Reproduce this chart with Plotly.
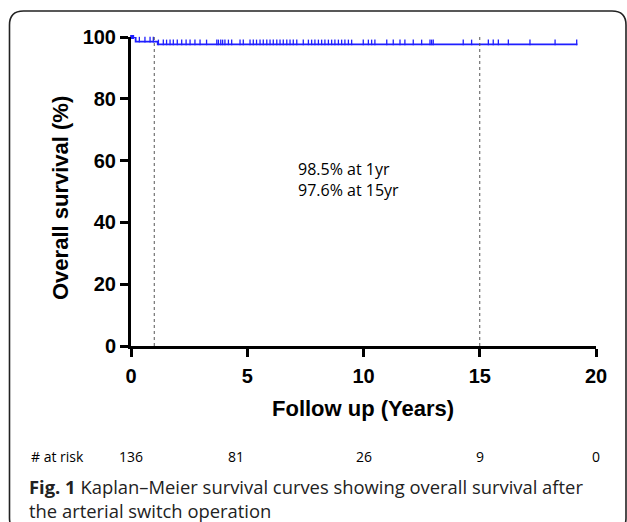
import numpy as np
import plotly.graph_objects as go

# ---- data ----
event_times = [0.0, 0.2, 1.15]
event_surv = [100.0, 98.5, 97.6]
end_time = 19.2
censor_times = [0.36, 0.6, 0.82, 0.96, 1.18, 1.39, 1.53, 1.68, 1.82, 1.99, 2.18, 2.37,
                2.54, 2.75, 2.97, 3.25, 3.69, 3.76, 3.86, 3.94, 4.04, 4.19, 4.33, 4.69,
                4.83, 5.12, 5.26, 5.4, 5.55, 5.69, 5.84, 5.98, 6.12, 6.27, 6.41, 6.55,
                6.7, 6.84, 6.98, 7.13, 7.41, 7.63, 7.77, 7.91, 8.06, 8.2, 8.34, 8.49,
                8.63, 8.77, 8.92, 9.06, 9.2, 9.35, 9.49, 9.99, 10.21, 10.35, 10.49,
                11.0, 11.28, 11.57, 11.78, 12.14, 12.5, 12.86, 12.93, 13.0, 14.29,
                14.65, 15.37, 15.58, 15.8, 16.23, 17.16, 18.24, 19.17]
ref_lines = [1, 15]
x_ticks = [0, 5, 10, 15, 20]
y_ticks = [0, 20, 40, 60, 80, 100]
risk_pos = [0, 4.5, 10, 15, 20]
risk_vals = ["136", "81", "26", "9", "0"]
note_lines = ["98.5% at 1yr", "97.6% at 15yr"]
caption_lines = ["<b>Fig. 1</b> Kaplan–Meier survival curves showing overall survival after",
                 "the arterial switch operation"]

W, H = 627, 522
L, R, T, B = 131, 31, 37, 176
pw, ph = W - L - R, H - T - B


def px(x):
    return (x - L) / pw


def py(y):
    return (H - B - y) / ph


blue = "#1f1fff"
fig = go.Figure()

# reference dotted lines
for r in ref_lines:
    fig.add_shape(type="line", x0=r, x1=r, y0=0, y1=100, xref="x", yref="y",
                  line=dict(color="#555555", width=1, dash="dot"))

# KM curve
kx = list(event_times) + [end_time]
ky = list(event_surv) + [event_surv[-1]]
fig.add_trace(go.Scatter(x=kx, y=ky, mode="lines", line=dict(color=blue, width=1.8, shape="hv"),
                         cliponaxis=False, showlegend=False))

# censor marks
idx = np.searchsorted(np.array(event_times), np.array(censor_times), side="right") - 1
cy = np.array(event_surv)[idx] + 0.65
fig.add_trace(go.Scatter(x=censor_times, y=cy, mode="markers",
                         marker=dict(symbol="line-ns", size=4, line=dict(color=blue, width=1.3)),
                         cliponaxis=False, showlegend=False))
# start dot
fig.add_trace(go.Scatter(x=[0.05], y=[100], mode="markers",
                         marker=dict(symbol="square", size=4, color=blue),
                         cliponaxis=False, showlegend=False))

axfont = dict(family="Liberation Sans, Arial", size=20, color="black", weight="bold")
fig.update_xaxes(range=[0, 20], tickvals=x_ticks, ticks="outside", ticklen=8, tickwidth=3,
                 tickcolor="black", showline=True, linewidth=3, linecolor="black",
                 showgrid=False, zeroline=False, tickfont=axfont, ticklabelstandoff=2)
fig.update_yaxes(range=[0, 100], tickvals=y_ticks, ticks="outside", ticklen=8, tickwidth=3,
                 tickcolor="black", showline=True, linewidth=3, linecolor="black",
                 showgrid=False, zeroline=False, tickfont=axfont)

titlefont = dict(family="Liberation Sans, Arial", size=22, color="black", weight="bold")
ann = []
ann.append(dict(text="Follow up (Years)", x=px(363), y=py(408), xref="paper", yref="paper",
                showarrow=False, font=titlefont, xanchor="center", yanchor="middle"))
ann.append(dict(text="Overall survival (%)", x=px(60), y=py(198), xref="paper", yref="paper",
                showarrow=False, textangle=-90, font=titlefont,
                xanchor="center", yanchor="middle"))
ann.append(dict(text="<br>".join(note_lines), x=px(296), y=py(179), xref="paper", yref="paper",
                showarrow=False, align="left", xanchor="left", yanchor="middle",
                font=dict(family="Open Sans", size=16, color="black")))
ann.append(dict(text="# at risk", x=px(29), y=py(456), xref="paper", yref="paper", showarrow=False,
                xanchor="left", yanchor="middle", font=dict(family="Open Sans", size=14, color="black")))
for p, v in zip(risk_pos, risk_vals):
    ann.append(dict(text=v, x=p, y=py(456), xref="x", yref="paper", showarrow=False,
                    xanchor="center", yanchor="middle",
                    font=dict(family="Open Sans", size=14, color="black")))
ann.append(dict(text="<br>".join(caption_lines),
                x=px(27), y=py(498), xref="paper", yref="paper", showarrow=False, align="left",
                xanchor="left", yanchor="middle", font=dict(family="Open Sans", size=18.4, color="#222222")))

# rounded border
x0, x1, y0, y1, rr = 9.5, 626, 11, 532, 14
path = (f"M {px(x0)},{py(y0 + rr)} Q {px(x0)},{py(y0)} {px(x0 + rr)},{py(y0)} "
        f"L {px(x1 - rr)},{py(y0)} Q {px(x1)},{py(y0)} {px(x1)},{py(y0 + rr)} "
        f"L {px(x1)},{py(y1 - rr)} Q {px(x1)},{py(y1)} {px(x1 - rr)},{py(y1)} "
        f"L {px(x0 + rr)},{py(y1)} Q {px(x0)},{py(y1)} {px(x0)},{py(y1 - rr)} Z")
fig.add_shape(type="path", path=path, xref="paper", yref="paper",
              line=dict(color="#222222", width=1.6))

fig.update_layout(width=W, height=H, margin=dict(l=L, r=R, t=T, b=B),
                  plot_bgcolor="white", paper_bgcolor="white", annotations=ann)

fig.write_html("out.html")
